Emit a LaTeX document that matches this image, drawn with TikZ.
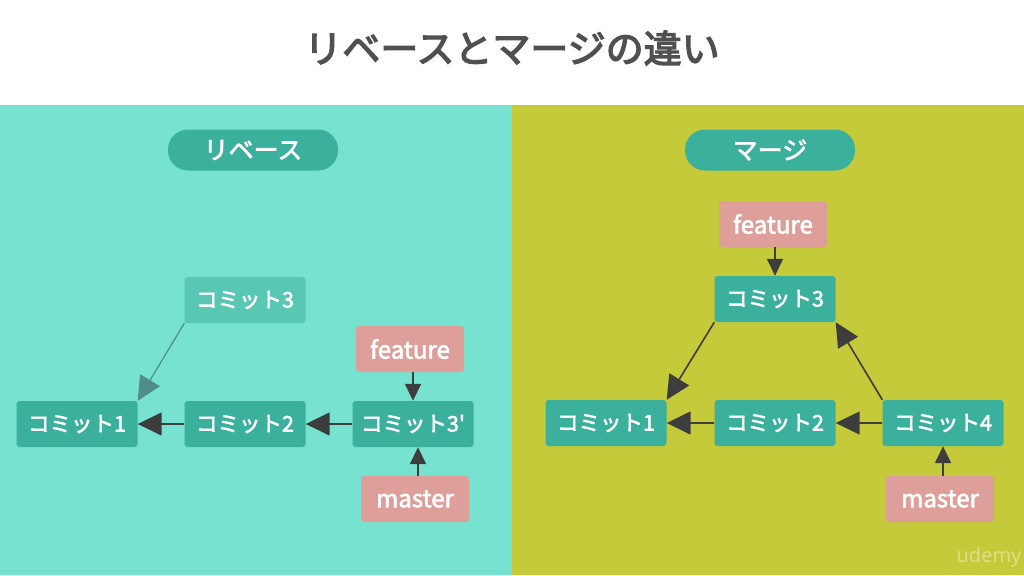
\documentclass[tikz,border=0pt]{standalone}
\usepackage{fontspec}
\setmainfont{Noto Sans CJK JP}
\newfontfamily\jp[FakeBold=2.5]{Noto Sans CJK JP}
\newfontfamily\jpt[FakeBold=3.5]{Noto Sans CJK JP}
\usetikzlibrary{arrows.meta}
\definecolor{bgL}{HTML}{78E2D0}
\definecolor{bgR}{HTML}{C4CA3A}
\definecolor{boxc}{HTML}{3BB09C}
\definecolor{boxlight}{HTML}{58C8B5}
\definecolor{pinkc}{HTML}{DE9E99}
\definecolor{arr}{HTML}{3D3D3D}
\definecolor{arrlight}{HTML}{4F8E86}
\definecolor{titlec}{HTML}{505050}
\definecolor{wm}{HTML}{DCDF86}
\tikzset{
  commit/.style={fill=boxc, text=white, rounded corners=3pt, minimum width=121pt, minimum height=46pt, inner sep=0pt, font=\jp\fontsize{21.5}{25}\selectfont},
  commitlight/.style={commit, fill=boxlight},
  label/.style={fill=pinkc, text=white, rounded corners=3pt, minimum width=108pt, minimum height=46pt, inner sep=0pt, font=\jp\fontsize{24}{28}\selectfont},
  pill/.style={fill=boxc, text=white, rounded corners=20pt, minimum width=170pt, minimum height=41pt, inner sep=0pt, font=\jp\fontsize{25}{29}\selectfont},
  arrow/.style={draw=arr, line width=1.6pt, -{Triangle[length=24pt,width=23pt]}},
  arrowlight/.style={draw=arrlight, line width=1.2pt, -{Triangle[length=24pt,width=23pt]}, arrlight},
  smallarrow/.style={draw=arr, line width=1.6pt, -{Triangle[length=17pt,width=16pt]}},
}
\begin{document}
\begin{tikzpicture}[x=1pt,y=-1pt]
\useasboundingbox (0,0) rectangle (1024,575);
\fill[white] (0,0) rectangle (1024,105);
\fill[bgL] (0,105) rectangle (512,575);
\fill[bgR] (512,105) rectangle (1024,575);
\node[text=titlec, font=\jpt\fontsize{38}{44}\selectfont] (title) at (512,48) {リベースとマージの違い};
\node[pill] (pL) at (253,150) {リベース};
\node[pill] (pR) at (770,150) {マージ};
% left
\node[commitlight] (L3) at (245,300) {コミット3};
\node[label] (Lf) at (410,349) {feature};
\node[commit] (L1) at (77,424) {コミット1};
\node[commit] (L2) at (245,424) {コミット2};
\node[commit] (L3p) at (413,424) {コミット3'};
\node[label] (Lm) at (415,499) {master};
\draw[arrowlight] (L3.south west) -- (L1.north east);
\draw[arrow] (L2.west) -- (L1.east);
\draw[arrow] (L3p.west) -- (L2.east);
\draw[smallarrow] (Lf.south -| L3p.north) -- (L3p.north);
\coordinate (L3pm) at ([xshift=5pt]L3p.south);
\draw[smallarrow] (Lm.north -| L3pm) -- (L3pm);
% right
\node[label] (Rf) at (773,224) {feature};
\node[commit] (R3) at (775,299) {コミット3};
\node[commit] (R1) at (606,423) {コミット1};
\node[commit] (R2) at (775,423) {コミット2};
\node[commit] (R4) at (943,423) {コミット4};
\node[label] (Rm) at (940,499) {master};
\draw[arrow] (R3.south west) -- (R1.north east);
\draw[arrow] (R4.north west) -- (R3.south east);
\draw[arrow] (R2.west) -- (R1.east);
\draw[arrow] (R4.west) -- (R2.east);
\draw[smallarrow] (Rf.south -| R3.north) -- (R3.north);
\draw[smallarrow] (Rm.north -| R4.south) -- (R4.south);
\node[text=wm, font=\fontspec{Noto Sans}\fontsize{20}{24}\selectfont] (wmk) at (989,557) {udemy};
\end{tikzpicture}
\end{document}
